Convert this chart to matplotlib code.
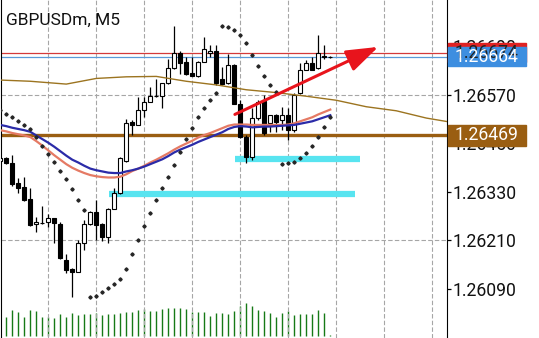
import numpy as np
import matplotlib.pyplot as plt
from matplotlib.patches import Rectangle
from matplotlib.transforms import blended_transform_factory

plt.rcParams['font.family'] = ['Roboto', 'DejaVu Sans']

W, H = 539, 338

title = 'GBPUSDm, M5'

# bar -1 is the half hidden candle on the left border, bar 54 the one that just opened
bars = list(range(-1, 55))
opens = [1.26405, 1.26412, 1.26401, 1.26352, 1.26342, 1.26311, 1.26250, 1.26253, 1.26255, 1.26264,
         1.26249, 1.26161, 1.26139, 1.26132, 1.26202, 1.26249, 1.26279, 1.26251, 1.26217, 1.26288,
         1.26326, 1.26406, 1.26502, 1.26495, 1.26532, 1.26552, 1.26566, 1.26566, 1.26598, 1.26635,
         1.26674, 1.26651, 1.26624, 1.26616, 1.26651, 1.26672, 1.26678, 1.26608, 1.26598, 1.26643,
         1.26548, 1.26466, 1.26416, 1.26511, 1.26554, 1.26499, 1.26519, 1.26507, 1.26519, 1.26482,
         1.26573, 1.26632, 1.26647, 1.26635, 1.26666, 1.26664]
highs = [1.26416, 1.26416, 1.26420, 1.26363, 1.26365, 1.26338, 1.26268, 1.26294, 1.26274, 1.26266,
         1.26255, 1.26175, 1.26140, 1.26210, 1.26260, 1.26281, 1.26309, 1.26253, 1.26290, 1.26338,
         1.26416, 1.26509, 1.26507, 1.26563, 1.26563, 1.26589, 1.26608, 1.26599, 1.26657, 1.26740,
         1.26678, 1.26664, 1.26664, 1.26653, 1.26713, 1.26692, 1.26692, 1.26639, 1.26670, 1.26645,
         1.26556, 1.26470, 1.26538, 1.26556, 1.26569, 1.26520, 1.26523, 1.26540, 1.26538, 1.26573,
         1.26647, 1.26655, 1.26664, 1.26717, 1.26692, 1.26665]
lows = [1.26402, 1.26398, 1.26344, 1.26326, 1.26308, 1.26246, 1.26231, 1.26251, 1.26243, 1.26203,
        1.26164, 1.26128, 1.26070, 1.26131, 1.26185, 1.26247, 1.26210, 1.26208, 1.26203, 1.26287,
        1.26325, 1.26404, 1.26470, 1.26494, 1.26514, 1.26551, 1.26564, 1.26538, 1.26597, 1.26634,
        1.26622, 1.26618, 1.26615, 1.26614, 1.26650, 1.26664, 1.26594, 1.26595, 1.26597, 1.26546,
        1.26462, 1.26400, 1.26408, 1.26507, 1.26470, 1.26478, 1.26478, 1.26482, 1.26457, 1.26478,
        1.26571, 1.26630, 1.26630, 1.26634, 1.26657, 1.26661]
closes = [1.26413, 1.26400, 1.26349, 1.26339, 1.26309, 1.26247, 1.26254, 1.26253, 1.26264, 1.26253,
          1.26165, 1.26136, 1.26131, 1.26202, 1.26251, 1.26279, 1.26247, 1.26218, 1.26288, 1.26326,
          1.26412, 1.26499, 1.26495, 1.26532, 1.26551, 1.26566, 1.26567, 1.26598, 1.26637, 1.26674,
          1.26647, 1.26622, 1.26616, 1.26651, 1.26682, 1.26678, 1.26598, 1.26596, 1.26643, 1.26548,
          1.26466, 1.26416, 1.26511, 1.26552, 1.26474, 1.26519, 1.26503, 1.26519, 1.26482, 1.26569,
          1.26632, 1.26647, 1.26632, 1.26672, 1.26664, 1.26664]
volumes = [60, 57, 78, 72, 57, 78, 75, 57, 57, 54, 66, 57, 69, 63, 66, 66, 69, 63, 66, 66, 69,
           72, 72, 78, 81, 75, 75, 81, 84, 84, 84, 81, 72, 72, 72, 60, 69, 69, 66, 75, 90,
           99, 90, 78, 75, 69, 57, 69, 75, 63, 66, 66, 66, 78, 69, 3]

# fast (blue) and slow (salmon) moving averages, one value per bar
ma_blue = [1.26495, 1.26492, 1.26488, 1.26485, 1.26482, 1.26478, 1.26469, 1.26460, 1.26451, 1.26441,
           1.26430, 1.26419, 1.26409, 1.26402, 1.26394, 1.26387, 1.26383, 1.26380, 1.26377, 1.26376,
           1.26376, 1.26380, 1.26383, 1.26387, 1.26392, 1.26398, 1.26404, 1.26410, 1.26418, 1.26427,
           1.26434, 1.26440, 1.26446, 1.26453, 1.26459, 1.26465, 1.26471, 1.26477, 1.26485, 1.26490,
           1.26492, 1.26491, 1.26489, 1.26490, 1.26491, 1.26491, 1.26492, 1.26493, 1.26494, 1.26495,
           1.26498, 1.26501, 1.26504, 1.26509, 1.26514, 1.26519]
ma_salmon = [1.26482, 1.26479, 1.26475, 1.26472, 1.26469, 1.26465, 1.26455, 1.26444, 1.26432, 1.26420,
             1.26409, 1.26398, 1.26389, 1.26382, 1.26376, 1.26371, 1.26368, 1.26366, 1.26365, 1.26365,
             1.26367, 1.26373, 1.26381, 1.26387, 1.26394, 1.26402, 1.26409, 1.26417, 1.26425, 1.26434,
             1.26442, 1.26449, 1.26456, 1.26464, 1.26470, 1.26475, 1.26481, 1.26487, 1.26493, 1.26496,
             1.26496, 1.26496, 1.26495, 1.26495, 1.26495, 1.26495, 1.26495, 1.26495, 1.26496, 1.26499,
             1.26504, 1.26509, 1.26514, 1.26521, 1.26527, 1.26533]

# long shifted average, runs past the last bar
ma_long_x = [-1, 4, 10, 15, 20, 25, 30, 35, 40, 45, 50, 55, 60, 65, 70, 74]
ma_long = [1.26606, 1.26603, 1.26596, 1.26610, 1.26614, 1.26615, 1.26603, 1.26594,
           1.26582, 1.26575, 1.26566, 1.26556, 1.26540, 1.26530, 1.26512, 1.26502]

sar = [1.26532, 1.26523, 1.26514, 1.26504, 1.26495, 1.26485, 1.26464, 1.26443, 1.26422, 1.26403,
       1.26381, 1.26361, 1.26336, 1.26310, 1.26284, 1.26070, 1.26072, 1.26081, 1.26091, 1.26102,
       1.26114, 1.26138, 1.26176, 1.26210, 1.26245, 1.26278, 1.26309, 1.26338, 1.26367, 1.26396,
       1.26428, 1.26460, 1.26488, 1.26515, 1.26537, 1.26556, 1.26574, 1.26740, 1.26738, 1.26730,
       1.26718, 1.26698, 1.26669, 1.26641, 1.26616, 1.26594, 1.26576, 1.26398, 1.26401, 1.26404,
       1.26412, 1.26426, 1.26443, 1.26466, 1.26490, 1.26515]

bid, ask = 1.26664, 1.26674
level = 1.26469
zones = [(38.1, 58.9, 1.26411), (17.1, 58.1, 1.26325)]
trend = ((38.1, 1.26521), (62.0, 1.26688))

price_ticks = [1.26690, 1.26570, 1.26450, 1.26330, 1.26210, 1.26090]
grid_prices = [1.26570, 1.26210]
grid_bars = [7, 15, 23, 31, 39, 47, 55, 63, 71]

px = 0.0012 / 48.5   # price per pixel

fig = plt.figure(figsize=(W / 100, H / 100), dpi=100)
ax = fig.add_axes([1 / W, 0, 445.7 / W, 1])
ax.set_xlim(-0.88, 73.4)
ax.set_ylim(1.25968, 1.26804)

for g in grid_bars:
    ax.axvline(g, color='#a6a6a6', lw=0.8, ls=(0, (4, 2)), zorder=0)
for g in grid_prices:
    ax.axhline(g, color='#a6a6a6', lw=0.8, ls=(0, (4, 2)), zorder=0)

# volumes on their own scale at the bottom
axv = ax.twinx()
axv.set_ylim(-6, 1008)
axv.vlines(bars, 0, volumes, color='#167a16', lw=1.0)
axv.axis('off')

ax.set_zorder(axv.get_zorder() + 1)
ax.patch.set_visible(False)

ax.axhline(ask, color='#d43a3a', lw=0.9, zorder=1)
ax.axhline(bid, color='#5a9ad8', lw=0.9, zorder=1)
ax.axhline(level, color='#9a5e12', lw=2.4, zorder=1)

for x0, x1, p in zones:
    ax.plot([x0, x1], [p, p], color='#58e4f0', lw=4.5, solid_capstyle='butt', zorder=2)

o = np.array(opens)
c = np.array(closes)
up = c >= o
ax.vlines(bars, lows, highs, color='black', lw=0.9, zorder=3)
ax.bar(np.array(bars)[up], (c - o)[up], bottom=o[up], width=0.68,
       color='white', edgecolor='black', lw=0.8, zorder=4)
ax.bar(np.array(bars)[~up], (c - o)[~up], bottom=o[~up], width=0.68,
       color='black', edgecolor='black', lw=0.8, zorder=4)

ax.plot(ma_long_x, ma_long, color='#9c7420', lw=1.0, zorder=5)
ax.plot(bars, ma_salmon, color='#e57a64', lw=1.6, zorder=5)
ax.plot(bars, ma_blue, color='#2b2ba8', lw=1.6, zorder=6)
ax.plot(bars, sar, ls='none', marker='D', ms=1.7, color='#262626', zorder=6)

ax.annotate('', xy=trend[1], xytext=trend[0],
            arrowprops=dict(arrowstyle='-|>,head_length=1.3,head_width=0.45',
                            color='#e8141c', lw=2.2, mutation_scale=15, shrinkA=0, shrinkB=0),
            zorder=7)

for s in ['top', 'bottom']:
    ax.spines[s].set_visible(False)
ax.spines['left'].set_color('black')
ax.spines['right'].set_color('black')
ax.set_xticks([])
ax.yaxis.tick_right()
ax.set_yticks(price_ticks)
ax.set_yticklabels([f'{p:.5f}' for p in price_ticks])
ax.tick_params(axis='y', length=3, width=0.9, pad=1.5, labelsize=12.7, labelcolor='#111111')

# price tags on the right
tr = blended_transform_factory(fig.transFigure, ax.transData)
for p, face, txt_col, hgt in [(ask, '#e02222', '#222222', 19), (bid, '#3d8ee0', 'white', 19),
                              (level, '#9a5e12', 'white', 21)]:
    fig.add_artist(Rectangle((448 / W, p - hgt * px / 2), 78 / W, hgt * px,
                             transform=tr, color=face, zorder=10))
    fig.text(487 / W, p, f'{p:.5f}', transform=tr, ha='center', va='center',
             color=txt_col, fontsize=12.7, zorder=11)

fig.text(6 / W, 1 - 24.5 / H, title, fontsize=12.5, va='baseline', color='#111111')

fig.savefig('out.png', dpi=100)
